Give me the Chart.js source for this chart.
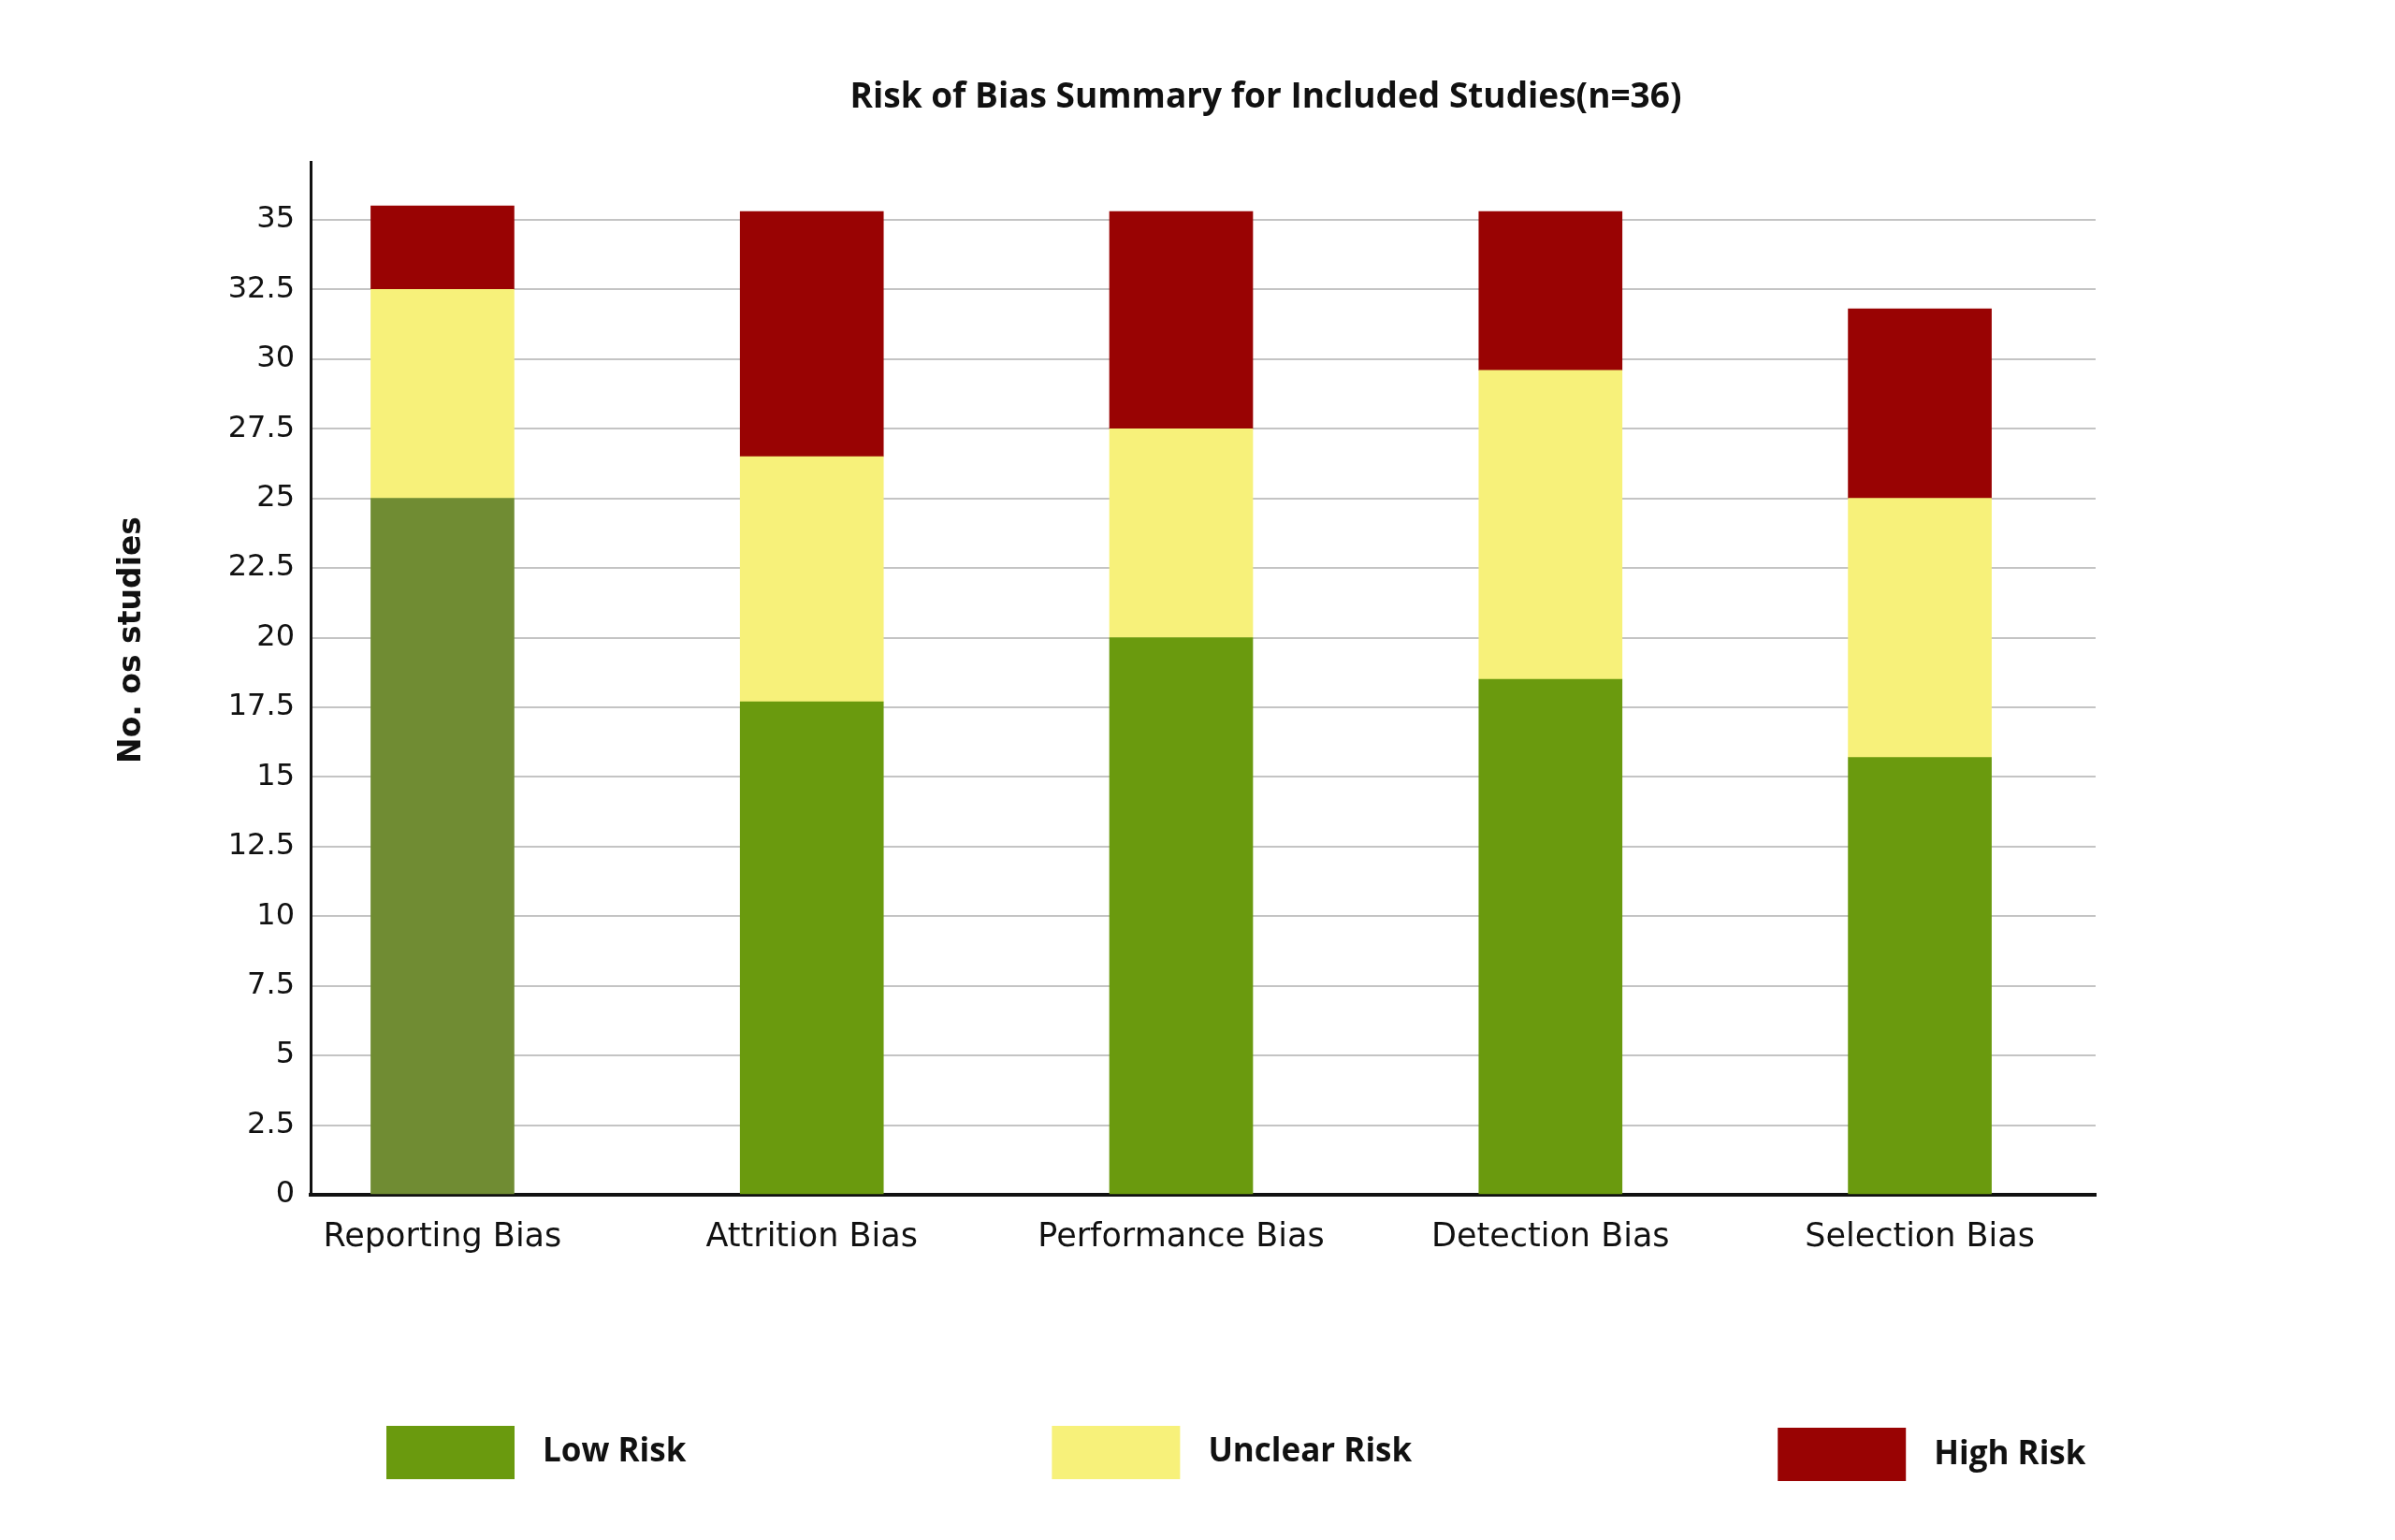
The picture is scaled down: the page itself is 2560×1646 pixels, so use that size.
<!DOCTYPE html>
<html>
<head>
<meta charset="utf-8">
<script src="https://cdn.jsdelivr.net/npm/chart.js@4/dist/chart.umd.min.js"></script>
<style>
  html, body { margin: 0; padding: 0; background: #ffffff; }
  #wrap { width: 2560px; height: 1646px; }
</style>
</head>
<body>
<div id="wrap"><canvas id="c" width="2560" height="1646"></canvas></div>
<script>
// ---- data ----
const chartTitle = 'Risk of Bias Summary for Included Studies(n=36)';
const yAxisTitle = 'No. os studies';
const categories = ['Reporting Bias', 'Attrition Bias', 'Performance Bias', 'Detection Bias', 'Selection Bias'];
const seriesNames = ['Low Risk', 'Unclear Risk', 'High Risk'];
const lowRisk = [25, 17.7, 20, 18.5, 15.7];
const unclearRisk = [7.5, 8.8, 7.5, 11.1, 9.3];
const highRisk = [3.0, 8.8, 7.8, 5.7, 6.8];
const yTickStep = 2.5;

// ---- styling ----
const lowColors = ['#708c33', '#6a9a0e', '#6a9a0e', '#6a9a0e', '#6a9a0e'];
const unclearColor = '#f7f17a';
const highColor = '#990303';
const legendColors = ['#6a9a0e', unclearColor, highColor];

const toPoints = arr => arr.map((v, i) => ({ x: i, y: v }));

const decorPlugin = {
  id: 'decor',
  afterDraw(chart) {
    const ctx = chart.ctx;
    const ca = chart.chartArea;
    ctx.save();
    // chart title
    ctx.fillStyle = '#111111';
    ctx.font = "700 37px 'Open Sans'";
    ctx.textAlign = 'center';
    ctx.textBaseline = 'middle';
    ctx.fillText(chartTitle, 1353, 104);
    // y axis title
    ctx.save();
    ctx.translate(141, 684);
    ctx.rotate(-Math.PI / 2);
    ctx.font = "bold 33px 'DejaVu Sans'";
    ctx.fillText(yAxisTitle, 0, 0);
    ctx.restore();
    // legend
    ctx.font = "700 35px 'Open Sans'";
    ctx.textAlign = 'left';
    const boxW = 137, boxH = 57, boxTop = 1524, gapText = 30, gapItem = 391;
    let x = ca.left + 81;
    chart.data.datasets.forEach((ds, i) => {
      ctx.fillStyle = legendColors[i];
      ctx.fillRect(x, boxTop + (i === 2 ? 2 : 0), boxW, boxH);
      x += boxW + gapText;
      ctx.fillStyle = '#111111';
      ctx.fillText(ds.label, x, boxTop + boxH / 2 + (i === 2 ? 3 : 0));
      x += ctx.measureText(ds.label).width + gapItem;
    });
    ctx.restore();
  }
};

new Chart(document.getElementById('c'), {
  type: 'bar',
  data: {
    datasets: [
      { label: seriesNames[0], data: toPoints(lowRisk), backgroundColor: lowColors },
      { label: seriesNames[1], data: toPoints(unclearRisk), backgroundColor: unclearColor },
      { label: seriesNames[2], data: toPoints(highRisk), backgroundColor: highColor }
    ]
  },
  options: {
    responsive: false,
    animation: false,
    devicePixelRatio: 1,
    datasets: { bar: { barThickness: 153, borderWidth: 0 } },
    layout: { padding: { top: 173, left: 80, right: 320, bottom: 289 } },
    plugins: {
      legend: { display: false },
      title: { display: false },
      tooltip: { enabled: false }
    },
    scales: {
      x: {
        type: 'linear',
        stacked: true,
        offset: false,
        min: -0.357,
        max: 4.476,
        afterFit(scale) { scale.height = 80; },
        grid: { display: false, drawTicks: false },
        border: { display: true, color: '#111111', width: 4 },
        ticks: {
          stepSize: 1,
          includeBounds: false,
          autoSkip: false,
          maxRotation: 0,
          padding: 25,
          color: '#111111',
          font: { family: "'DejaVu Sans'", size: 35 },
          callback: v => (Number.isInteger(v) && categories[v] !== undefined) ? categories[v] : ''
        }
      },
      y: {
        stacked: true,
        min: 0,
        max: 37.08,
        afterFit(scale) { scale.width = 252; },
        grid: { color: '#c4c4c4', lineWidth: 2, drawTicks: false },
        border: { display: true, color: '#111111', width: 3 },
        ticks: {
          stepSize: yTickStep,
          includeBounds: false,
          padding: 17,
          color: '#111111',
          font: { family: "'DejaVu Sans'", size: 32 }
        },
        title: { display: false }
      }
    }
  },
  plugins: [decorPlugin]
});
</script>
</body>
</html>
